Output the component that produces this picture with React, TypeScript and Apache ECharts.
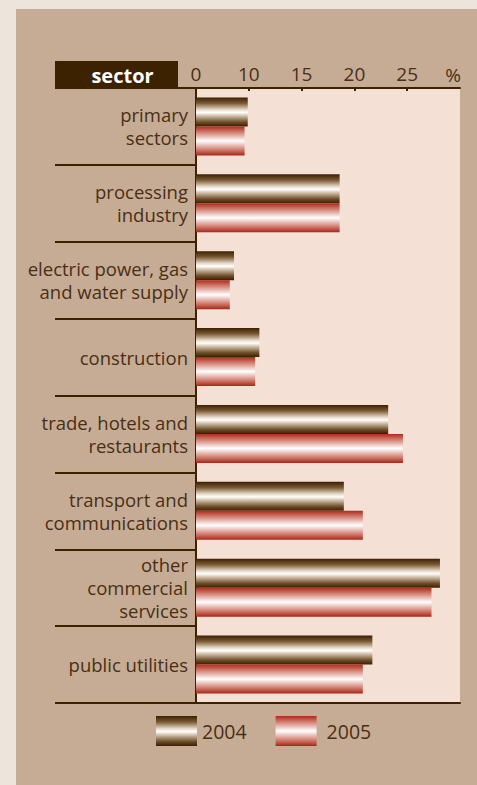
import React, { useEffect, useRef } from "react";
import * as echarts from "echarts";

const categories = [
  "primary\nsectors",
  "processing\nindustry",
  "electric power, gas\nand water supply",
  "construction",
  "trade, hotels and\nrestaurants",
  "transport and\ncommunications",
  "other\ncommercial\nservices",
  "public utilities",
];
const values2004 = [9.9, 18.6, 8.6, 11.0, 23.2, 19.0, 28.1, 21.7];
const values2005 = [9.6, 18.6, 8.2, 10.6, 24.6, 20.8, 27.3, 20.8];
const tickValues = [5, 10, 15, 20, 25];
const tickLabels = ["0", "10", "15", "20", "25"];

const DARK = "#3d2200";
const TEXT = "#4a2f14";
const FONT = "'Open Sans', 'Noto Sans', sans-serif";

export default function App() {
  const ref = useRef<HTMLDivElement>(null);
  useEffect(() => {
    if (!ref.current) return;
    const chart = echarts.init(ref.current, null, { renderer: "svg" });
    const grad2004 = new echarts.graphic.LinearGradient(0, 0, 0, 1, [
      { offset: 0, color: "#3b1f00" },
      { offset: 0.2, color: "#7a5a35" },
      { offset: 0.42, color: "#e6d9c8" },
      { offset: 0.52, color: "#ffffff" },
      { offset: 0.62, color: "#d8c8b2" },
      { offset: 0.85, color: "#6e4e2a" },
      { offset: 1, color: "#3b1f00" },
    ]);
    const grad2005 = new echarts.graphic.LinearGradient(0, 0, 0, 1, [
      { offset: 0, color: "#ad2a1a" },
      { offset: 0.22, color: "#d5877a" },
      { offset: 0.5, color: "#ffffff" },
      { offset: 0.78, color: "#d5877a" },
      { offset: 1, color: "#a82616" },
    ]);
    chart.setOption({
      animation: false,
      backgroundColor: "transparent",
      textStyle: { fontFamily: FONT },
      grid: {
        left: 196,
        right: 17,
        top: 88,
        bottom: 82,
        show: true,
        backgroundColor: "#f5e0d6",
        borderWidth: 0,
      },
      xAxis: [
        {
          type: "value",
          position: "top",
          min: 5,
          max: 30,
          interval: 5,
          axisLine: { show: true, lineStyle: { color: DARK, width: 2 } },
          axisTick: {
            show: true,
            inside: true,
            length: 3,
            customValues: [10, 15, 20, 25],
            lineStyle: { color: DARK, width: 2 },
          },
          axisLabel: {
            customValues: tickValues,
            formatter: (v: number) => tickLabels[tickValues.indexOf(v)] ?? "",
            color: TEXT,
            fontSize: 19,
            fontFamily: FONT,
            margin: 5,
          },
          splitLine: { show: false },
        },
        {
          type: "value",
          position: "bottom",
          min: 5,
          max: 30,
          interval: 5,
          axisLine: { show: true, lineStyle: { color: DARK, width: 2 } },
          axisTick: { show: false },
          axisLabel: { show: false },
          splitLine: { show: false },
        },
      ],
      yAxis: {
        type: "category",
        inverse: true,
        data: categories,
        axisLine: { show: true, lineStyle: { color: DARK, width: 2 } },
        axisTick: { show: true, length: 141, lineStyle: { color: DARK, width: 2 } },
        axisLabel: {
          color: TEXT,
          fontSize: 18.5,
          lineHeight: 23,
          fontFamily: FONT,
          margin: 8,
          align: "right",
        },
      },
      legend: {
        left: 156,
        top: 716,
        padding: 0,
        itemWidth: 41,
        itemHeight: 30,
        itemGap: 29,
        icon: "rect",
        textStyle: { color: TEXT, fontSize: 19.5, fontFamily: FONT, padding: [4, 0, 0, 0] },
        data: [
          { name: "2004" },
          { name: "2005", textStyle: { padding: [4, 0, 0, 5] } },
        ],
      },
      series: [
        {
          name: "2004",
          type: "bar",
          xAxisIndex: 0,
          data: values2004,
          barWidth: 29,
          barGap: "0%",
          itemStyle: { color: grad2004 },
        },
        {
          name: "2005",
          type: "bar",
          xAxisIndex: 0,
          data: values2005,
          barWidth: 29,
          barGap: "0%",
          itemStyle: { color: grad2005 },
        },
      ],
      graphic: [
        {
          type: "rect",
          shape: { x: 55, y: 61, width: 123, height: 27 },
          style: { fill: DARK },
          z: 10,
        },
        {
          type: "text",
          x: 122.5,
          y: 75,
          z: 11,
          style: {
            text: "sector",
            fill: "#ffffff",
            font: `bold 20px ${FONT}`,
            textAlign: "center",
            textVerticalAlign: "middle",
          },
        },
        {
          type: "text",
          x: 453,
          y: 75,
          style: {
            text: "%",
            fill: TEXT,
            font: `19px ${FONT}`,
            textAlign: "center",
            textVerticalAlign: "middle",
          },
        },
      ],
    });
    return () => chart.dispose();
  }, []);

  return (
    <div
      style={{
        position: "fixed",
        left: 0,
        top: 0,
        width: 477,
        height: 785,
        background: "#ede4dc",
        overflow: "hidden",
      }}
    >
      <div
        style={{
          position: "absolute",
          left: 16,
          top: 9,
          width: 461,
          height: 776,
          background: "#c6ac94",
        }}
      />
      <div
        ref={ref}
        style={{ position: "absolute", left: 0, top: 0, width: 477, height: 785 }}
      />
    </div>
  );
}
